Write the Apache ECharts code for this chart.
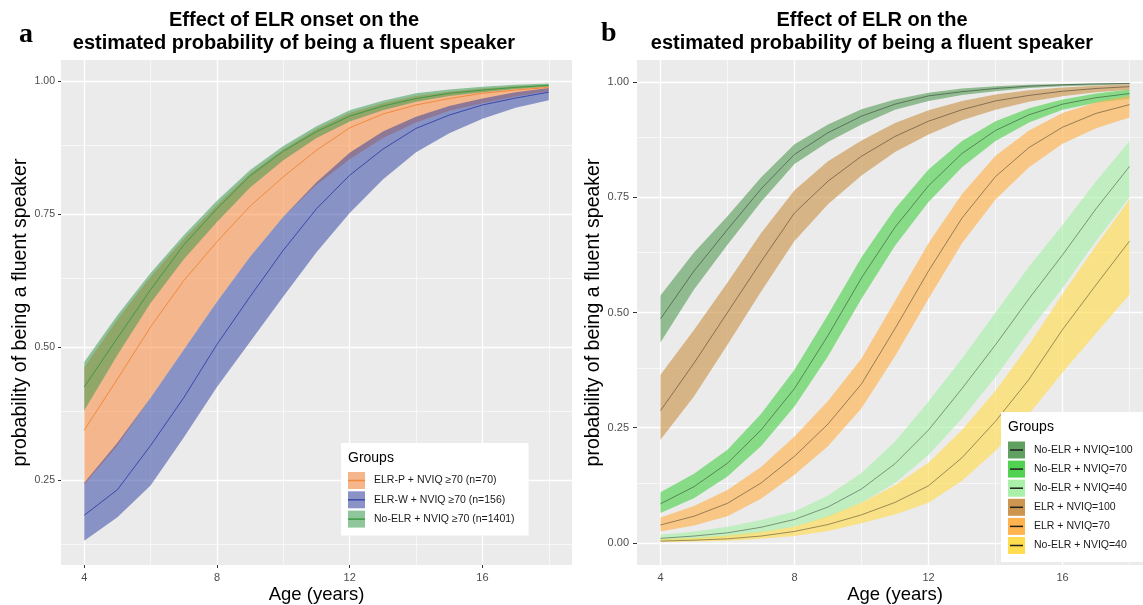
<!DOCTYPE html>
<html><head><meta charset="utf-8">
<script src="https://cdn.jsdelivr.net/npm/echarts@6/dist/echarts.min.js"></script>
<style>html,body{margin:0;padding:0;background:#fff}#c{width:1143px;height:605px}</style>
</head><body><div id="c"></div>
<script>
// ---------- shared ----------
const ages = [4,5,6,7,8,9,10,11,12,13,14,15,16,17,18];
const xTickValues = [4, 8, 12, 16];
const xMinorValues = [6, 10, 14, 18];

// ---------- panel a ----------
const aYTickValues = [0.25, 0.5, 0.75, 1.0];
const aYMinorValues = [0.125, 0.375, 0.625, 0.875];
const aGroups = ['ELR-P + NVIQ \u226570 (n=70)', 'ELR-W + NVIQ \u226570 (n=156)', 'No-ELR + NVIQ \u226570 (n=1401)'];
const aElrP_mid = [0.344,0.440,0.538,0.625,0.698,0.765,0.820,0.870,0.912,0.938,0.955,0.967,0.977,0.983,0.988];
const aElrP_hi  = [0.462,0.552,0.632,0.703,0.767,0.826,0.872,0.910,0.940,0.958,0.972,0.980,0.986,0.990,0.993];
const aElrP_lo  = [0.242,0.315,0.405,0.495,0.585,0.670,0.745,0.805,0.853,0.893,0.922,0.944,0.958,0.971,0.981];
const aElrW_mid = [0.184,0.232,0.315,0.405,0.505,0.595,0.682,0.760,0.823,0.872,0.911,0.936,0.955,0.968,0.979];
const aElrW_hi  = [0.245,0.320,0.405,0.495,0.585,0.670,0.745,0.810,0.865,0.905,0.933,0.953,0.967,0.979,0.987];
const aElrW_lo  = [0.136,0.180,0.240,0.330,0.425,0.510,0.595,0.678,0.752,0.815,0.866,0.902,0.929,0.950,0.964];
const aNoElr_mid = [0.425,0.517,0.608,0.692,0.760,0.822,0.868,0.905,0.934,0.953,0.967,0.977,0.983,0.988,0.992];
const aNoElr_hi  = [0.472,0.560,0.639,0.710,0.775,0.833,0.878,0.915,0.945,0.963,0.977,0.984,0.989,0.993,0.9955];
const aNoElr_lo  = [0.381,0.485,0.583,0.665,0.735,0.800,0.851,0.893,0.924,0.945,0.961,0.972,0.979,0.985,0.989];

// ---------- panel b ----------
const bYTickValues = [0, 0.25, 0.5, 0.75, 1.0];
const bYMinorValues = [0.125, 0.375, 0.625, 0.875];
const bGroups = ['No-ELR + NVIQ=100', 'No-ELR + NVIQ=70', 'No-ELR + NVIQ=40', 'ELR + NVIQ=100', 'ELR + NVIQ=70', 'No-ELR + NVIQ=40 '];
const bN100_mid = [0.486,0.590,0.680,0.768,0.843,0.890,0.926,0.952,0.970,0.979,0.986,0.991,0.994,0.996,0.997];
const bN100_hi  = [0.537,0.630,0.709,0.793,0.865,0.908,0.941,0.962,0.977,0.986,0.991,0.994,0.996,0.997,0.998];
const bN100_lo  = [0.435,0.550,0.647,0.740,0.822,0.870,0.908,0.940,0.959,0.972,0.980,0.987,0.991,0.993,0.995];
const bN70_mid = [0.085,0.122,0.173,0.245,0.335,0.450,0.575,0.685,0.775,0.845,0.895,0.929,0.952,0.966,0.975];
const bN70_hi  = [0.110,0.150,0.202,0.280,0.376,0.495,0.620,0.725,0.810,0.872,0.915,0.943,0.962,0.975,0.984];
const bN70_lo  = [0.065,0.097,0.144,0.210,0.296,0.405,0.530,0.645,0.740,0.815,0.872,0.912,0.940,0.955,0.964];
const bN40_mid = [0.010,0.015,0.022,0.034,0.051,0.078,0.117,0.172,0.245,0.335,0.430,0.530,0.625,0.725,0.817];
const bN40_hi  = [0.018,0.025,0.035,0.050,0.068,0.103,0.152,0.220,0.307,0.400,0.500,0.600,0.690,0.785,0.872];
const bN40_lo  = [0.005,0.008,0.013,0.022,0.035,0.056,0.087,0.130,0.191,0.270,0.360,0.460,0.553,0.655,0.750];
const bE100_mid = [0.287,0.390,0.500,0.610,0.716,0.785,0.839,0.882,0.915,0.940,0.959,0.971,0.980,0.986,0.990];
const bE100_hi  = [0.365,0.462,0.565,0.672,0.765,0.828,0.873,0.911,0.939,0.959,0.973,0.982,0.988,0.992,0.995];
const bE100_lo  = [0.224,0.318,0.430,0.545,0.655,0.735,0.797,0.848,0.886,0.917,0.940,0.957,0.969,0.978,0.983];
const bE70_mid = [0.039,0.058,0.086,0.130,0.188,0.258,0.345,0.465,0.590,0.705,0.795,0.858,0.902,0.932,0.951];
const bE70_hi  = [0.055,0.080,0.115,0.165,0.231,0.308,0.400,0.525,0.650,0.757,0.840,0.895,0.933,0.956,0.970];
const bE70_lo  = [0.025,0.038,0.058,0.096,0.148,0.210,0.292,0.405,0.530,0.650,0.745,0.815,0.866,0.900,0.923];
const bY40_mid = [0.004,0.006,0.009,0.015,0.025,0.040,0.061,0.088,0.124,0.185,0.264,0.355,0.463,0.560,0.655];
const bY40_hi  = [0.008,0.011,0.016,0.024,0.035,0.058,0.087,0.125,0.174,0.245,0.330,0.430,0.540,0.645,0.745];
const bY40_lo  = [0.002,0.003,0.005,0.009,0.015,0.026,0.043,0.062,0.087,0.135,0.200,0.280,0.370,0.455,0.539];

// ---------- styling ----------
const FONT = 'Liberation Sans';
const aFill = ['rgba(253,130,45,0.5)', 'rgba(40,57,157,0.5)', 'rgba(45,150,70,0.5)'];
const aKey = ['#F6B68B', '#8B93C6', '#90C69C'];
const aLine = ['#F28A3C', '#3949AB', '#3E9A45'];
const bColor = ['#60A060', '#52D252', '#AAF0AA', '#CD9650', '#FFB450', '#FFDC50'];
const bFillAlpha = 0.65;
const bLine = 'rgba(0,0,0,0.38)';

function rgba(hex, a) {
  const n = parseInt(hex.slice(1), 16);
  return 'rgba(' + (n >> 16 & 255) + ',' + (n >> 8 & 255) + ',' + (n & 255) + ',' + a + ')';
}

// ribbon between lo and hi, drawn as one polygon through the axes' scales
function band(name, gi, lo, hi, fill, z) {
  return { type: 'custom', name: name, xAxisIndex: gi, yAxisIndex: gi, z: z, silent: true, clip: true,
    itemStyle: { color: fill },
    data: ages.map((a, i) => [a, lo[i], hi[i]]),
    encode: { x: 0, y: [1, 2] },
    renderItem: function (params, api) {
      if (params.dataIndexInside !== 0) return null;
      const n = params.dataInsideLength;
      const pts = [];
      for (let j = 0; j < n; j++) pts.push(api.coord([api.value(0, j), api.value(2, j)]));
      for (let j = n - 1; j >= 0; j--) pts.push(api.coord([api.value(0, j), api.value(1, j)]));
      return { type: 'polygon', shape: { points: pts }, style: { fill: fill, stroke: null } };
    } };
}
function midLine(id, gi, mid, color, z) {
  return { type: 'line', name: id + '_line', xAxisIndex: gi, yAxisIndex: gi,
    data: ages.map((a, i) => [a, mid[i]]), symbol: 'none', showSymbol: false,
    lineStyle: { color: color, width: 1 }, silent: true, z: z };
}
function gridLines(gi, yMaj, yMin) {
  const maj = { color: '#ffffff', width: 1.3, type: 'solid' };
  const min = { color: '#ffffff', width: 0.6, type: 'solid' };
  const d = [];
  xMinorValues.forEach(v => d.push({ xAxis: v, lineStyle: min }));
  yMin.forEach(v => d.push({ yAxis: v, lineStyle: min }));
  xTickValues.forEach(v => d.push({ xAxis: v, lineStyle: maj }));
  yMaj.forEach(v => d.push({ yAxis: v, lineStyle: maj }));
  return { type: 'line', name: 'grid' + gi, xAxisIndex: gi, yAxisIndex: gi, data: [], silent: true, z: 1,
    markLine: { symbol: ['none', 'none'], silent: true, z: 1, animation: false,
      label: { show: false }, emphasis: { disabled: true }, data: d } };
}
function xAxisOpt(gi, tickLen, margin) {
  return { type: 'value', gridIndex: gi, min: 3.3, max: 18.7,
    axisLine: { show: false },
    axisTick: { show: true, length: tickLen, customValues: xTickValues, lineStyle: { color: '#333333', width: 1 } },
    axisLabel: { customValues: xTickValues, color: '#4D4D4D', fontSize: 11, fontFamily: FONT, margin: margin },
    splitLine: { show: false },
    name: 'Age (years)', nameLocation: 'middle', nameGap: 20, nameMoveOverlap: false,
    nameTextStyle: { fontSize: 18.5, color: '#000', fontFamily: FONT } };
}
function yAxisOpt(gi, min, max, ticks, tickLen, margin, gap, fs) {
  return { type: 'value', gridIndex: gi, min: min, max: max,
    axisLine: { show: false },
    axisTick: { show: true, length: tickLen, customValues: ticks, lineStyle: { color: '#333333', width: 1 } },
    axisLabel: { customValues: ticks, color: '#4D4D4D', fontSize: fs, fontFamily: FONT, margin: margin,
      formatter: v => v.toFixed(2) },
    splitLine: { show: false },
    name: 'probability of being a fluent speaker', nameLocation: 'middle', nameGap: gap, nameRotate: 90,
    nameTextStyle: { fontSize: 19.5, color: '#000', fontFamily: FONT } };
}

const series = [];
series.push(gridLines(0, aYTickValues, aYMinorValues));
series.push(gridLines(1, bYTickValues, bYMinorValues));
// panel a ribbons (factor order: ELR-P, ELR-W, No-ELR)
series.push(band(aGroups[0], 0, aElrP_lo, aElrP_hi, aFill[0], 2));
series.push(band(aGroups[1], 0, aElrW_lo, aElrW_hi, aFill[1], 3));
series.push(band(aGroups[2], 0, aNoElr_lo, aNoElr_hi, aFill[2], 4));
series.push(midLine('aP', 0, aElrP_mid, aLine[0], 10));
series.push(midLine('aW', 0, aElrW_mid, aLine[1], 10));
series.push(midLine('aN', 0, aNoElr_mid, aLine[2], 10));
// panel b
const bLo = [bN100_lo, bN70_lo, bN40_lo, bE100_lo, bE70_lo, bY40_lo];
const bHi = [bN100_hi, bN70_hi, bN40_hi, bE100_hi, bE70_hi, bY40_hi];
const bMid = [bN100_mid, bN70_mid, bN40_mid, bE100_mid, bE70_mid, bY40_mid];
bGroups.forEach((g, k) => series.push(band(g, 1, bLo[k], bHi[k], rgba(bColor[k], bFillAlpha), 2 + k)));
bGroups.forEach((g, k) => series.push(midLine('b' + k, 1, bMid[k], bLine, 10)));

// legend key geometry
const aLegTop = 443, aLegPadTop = 29, aItemH = 17, aGap = 2.3;
const bLegTop = 412, bLegPadTop = 29.5, bItemH = 17, bGap = 2.1;

const graphics = [
  { type: 'text', x: 294, y: 9, z: 100, style: { text: 'Effect of ELR onset on the\nestimated probability of being a fluent speaker',
      fontFamily: FONT, fontWeight: 'bold', fontSize: 20, lineHeight: 23, align: 'center', verticalAlign: 'top', fill: '#000' } },
  { type: 'text', x: 872, y: 9, z: 100, style: { text: 'Effect of ELR on the\nestimated probability of being a fluent speaker',
      fontFamily: FONT, fontWeight: 'bold', fontSize: 20, lineHeight: 23, align: 'center', verticalAlign: 'top', fill: '#000' } },
  { type: 'text', x: 19, y: 35, z: 100, style: { text: 'a', fontFamily: 'Liberation Serif', fontWeight: 'bold', fontSize: 28,
      align: 'left', verticalAlign: 'middle', fill: '#000' } },
  { type: 'text', x: 601, y: 34, z: 100, style: { text: 'b', fontFamily: 'Liberation Serif', fontWeight: 'bold', fontSize: 28,
      align: 'left', verticalAlign: 'middle', fill: '#000' } },
  { type: 'text', x: 348, y: 458, z: 100, style: { text: 'Groups', fontFamily: FONT, fontSize: 14, align: 'left', verticalAlign: 'middle', fill: '#000' } },
  { type: 'text', x: 1008, y: 427, z: 100, style: { text: 'Groups', fontFamily: FONT, fontSize: 14, align: 'left', verticalAlign: 'middle', fill: '#000' } }
];
aGroups.forEach((g, k) => {
  const cy = aLegTop + aLegPadTop + k * (aItemH + aGap) + aItemH / 2;
  graphics.push({ type: 'line', z: 100, shape: { x1: 348, y1: cy, x2: 365, y2: cy }, style: { stroke: aLine[k], lineWidth: 1.5 } });
});
bGroups.forEach((g, k) => {
  const cy = bLegTop + bLegPadTop + k * (bItemH + bGap) + bItemH / 2;
  graphics.push({ type: 'line', z: 100, shape: { x1: 1010, y1: cy, x2: 1023, y2: cy }, style: { stroke: '#222', lineWidth: 1.5 } });
});

const option = {
  animation: false,
  backgroundColor: '#ffffff',
  grid: [
    { left: 61, top: 60, width: 511, height: 505, show: true, backgroundColor: '#EBEBEB', borderWidth: 0,
      containLabel: false, outerBoundsMode: 'none' },
    { left: 637, top: 60, width: 516, height: 505, show: true, backgroundColor: '#EBEBEB', borderWidth: 0,
      containLabel: false, outerBoundsMode: 'none' }
  ],
  xAxis: [xAxisOpt(0, 3, 7), xAxisOpt(1, 4, 7)],
  yAxis: [yAxisOpt(0, 0.0905, 1.0395, aYTickValues, 3, 6, 25, 10.5), yAxisOpt(1, -0.0478, 1.0478, bYTickValues, 4, 8, 23, 11)],
  legend: [
    { orient: 'vertical', left: 341, top: aLegTop, padding: [aLegPadTop, 14, 8, 7], backgroundColor: '#fff', z: 50,
      itemWidth: 17, itemHeight: aItemH, itemGap: aGap, icon: 'rect', selectedMode: false,
      itemStyle: { borderWidth: 0 },
      textStyle: { fontSize: 10.5, color: '#1a1a1a', fontFamily: FONT, padding: [0, 0, 0, 4] },
      data: aGroups.map((g, k) => ({ name: g, itemStyle: { color: aKey[k] } })) },
    { orient: 'vertical', left: 1001, top: bLegTop, padding: [bLegPadTop, 30, 8, 7], backgroundColor: '#fff', z: 50,
      itemWidth: 17, itemHeight: bItemH, itemGap: bGap, icon: 'rect', selectedMode: false,
      itemStyle: { borderWidth: 0 },
      textStyle: { fontSize: 10.5, color: '#1a1a1a', fontFamily: FONT, padding: [0, 0, 0, 4] },
      data: bGroups.map((g, k) => ({ name: g, itemStyle: { color: bColor[k] } })) }
  ],
  graphic: graphics,
  series: series
};
const chart = echarts.init(document.getElementById('c'), null, { renderer: 'canvas' });
chart.setOption(option);
</script>
</body></html>
